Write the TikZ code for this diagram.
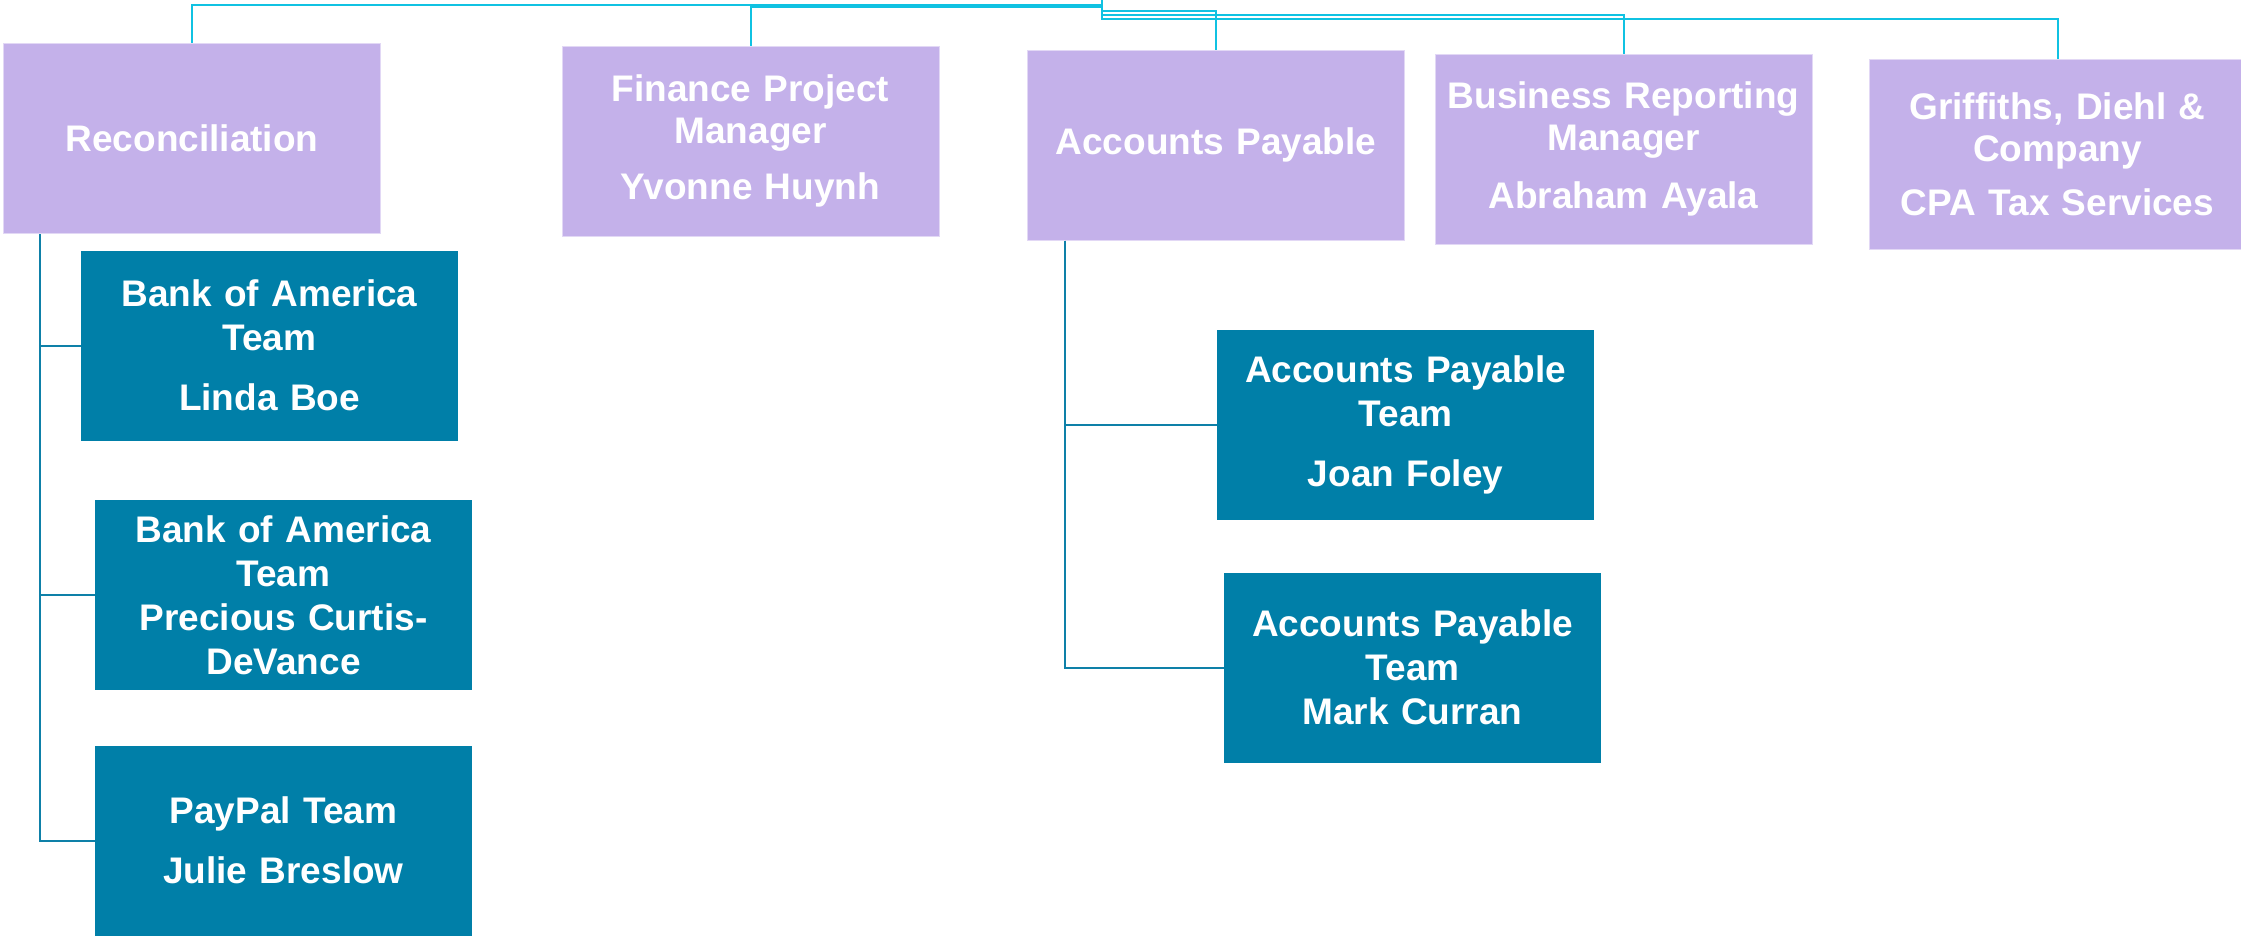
\documentclass[tikz,border=0pt]{standalone}
\usepackage{fontspec}
\setmainfont{Liberation Sans}
\definecolor{lav}{RGB}{196,177,234}
\definecolor{lavedge}{RGB}{226,216,245}
\definecolor{tealbox}{RGB}{0,127,168}
\definecolor{cyanline}{RGB}{16,194,226}
\definecolor{tealline}{RGB}{14,128,168}
\tikzset{
  boxtext/.style={align=center, text=white, inner sep=0pt, text width=178pt,
    minimum width=188.5pt, minimum height=95pt},
  topbox/.style={boxtext, fill=lav, draw=lavedge, line width=0.5pt,
    font=\bfseries\fontsize{18.5pt}{21pt}\selectfont},
  teambox/.style={boxtext, fill=tealbox,
    font=\bfseries\fontsize{18.5pt}{22pt}\selectfont},
  topline/.style={draw=cyanline, line width=1pt},
  childline/.style={draw=tealline, line width=1pt},
}
\begin{document}
\begin{tikzpicture}[x=0.5pt,y=-0.5pt]
\useasboundingbox (0,0) rectangle (2241,937);
% top level
\node[topbox] (rec) at (192,138.5) {Reconciliation};
\node[topbox] (fin) at (750.5,141) {Finance Project\\Manager\\[7pt]Yvonne Huynh};
\node[topbox] (ap) at (1216,145) {Accounts Payable};
\node[topbox] (br) at (1623.5,149) {Business Reporting\\Manager\\[8pt]Abraham Ayala};
\node[topbox] (gr) at (2057.5,154) {Griffiths, Diehl \&\\Company\\[6pt]CPA Tax Services};
% teams
\node[teambox] (boa1) at (269.5,345.5) {Bank of America\\Team\\[8pt]Linda Boe};
\node[teambox] (boa2) at (283.5,595) {Bank of America\\Team\\Precious Curtis-\\DeVance};
\node[teambox] (pp) at (283.5,840.5) {PayPal Team\\[8pt]Julie Breslow};
\node[teambox] (joan) at (1405.5,424.5) {Accounts Payable\\Team\\[8pt]Joan Foley};
\node[teambox] (mark) at (1412.5,667.5) {Accounts Payable\\Team\\Mark Curran};
% top connectors
\coordinate (root) at (1101.5,-2);
\draw[topline] (root) -- ++(0,7) -| (rec.north);
\draw[topline] (root) -- ++(0,9.3) -| (fin.north);
\draw[topline] (root) -- ++(0,13) -| (ap.north);
\draw[topline] (root) -- ++(0,17) -| (br.north);
\draw[topline] (root) -- ++(0,21) -| (gr.north);
% child connectors
\coordinate (recstem) at ([xshift=18.5pt]rec.south west);
\draw[childline] (recstem) |- (boa1.west);
\draw[childline] (recstem) |- (boa2.west);
\draw[childline] (recstem) |- (pp.west);
\coordinate (apstem) at ([xshift=19pt]ap.south west);
\draw[childline] (apstem) |- (joan.west);
\draw[childline] (apstem) |- (mark.west);
\end{tikzpicture}
\end{document}
